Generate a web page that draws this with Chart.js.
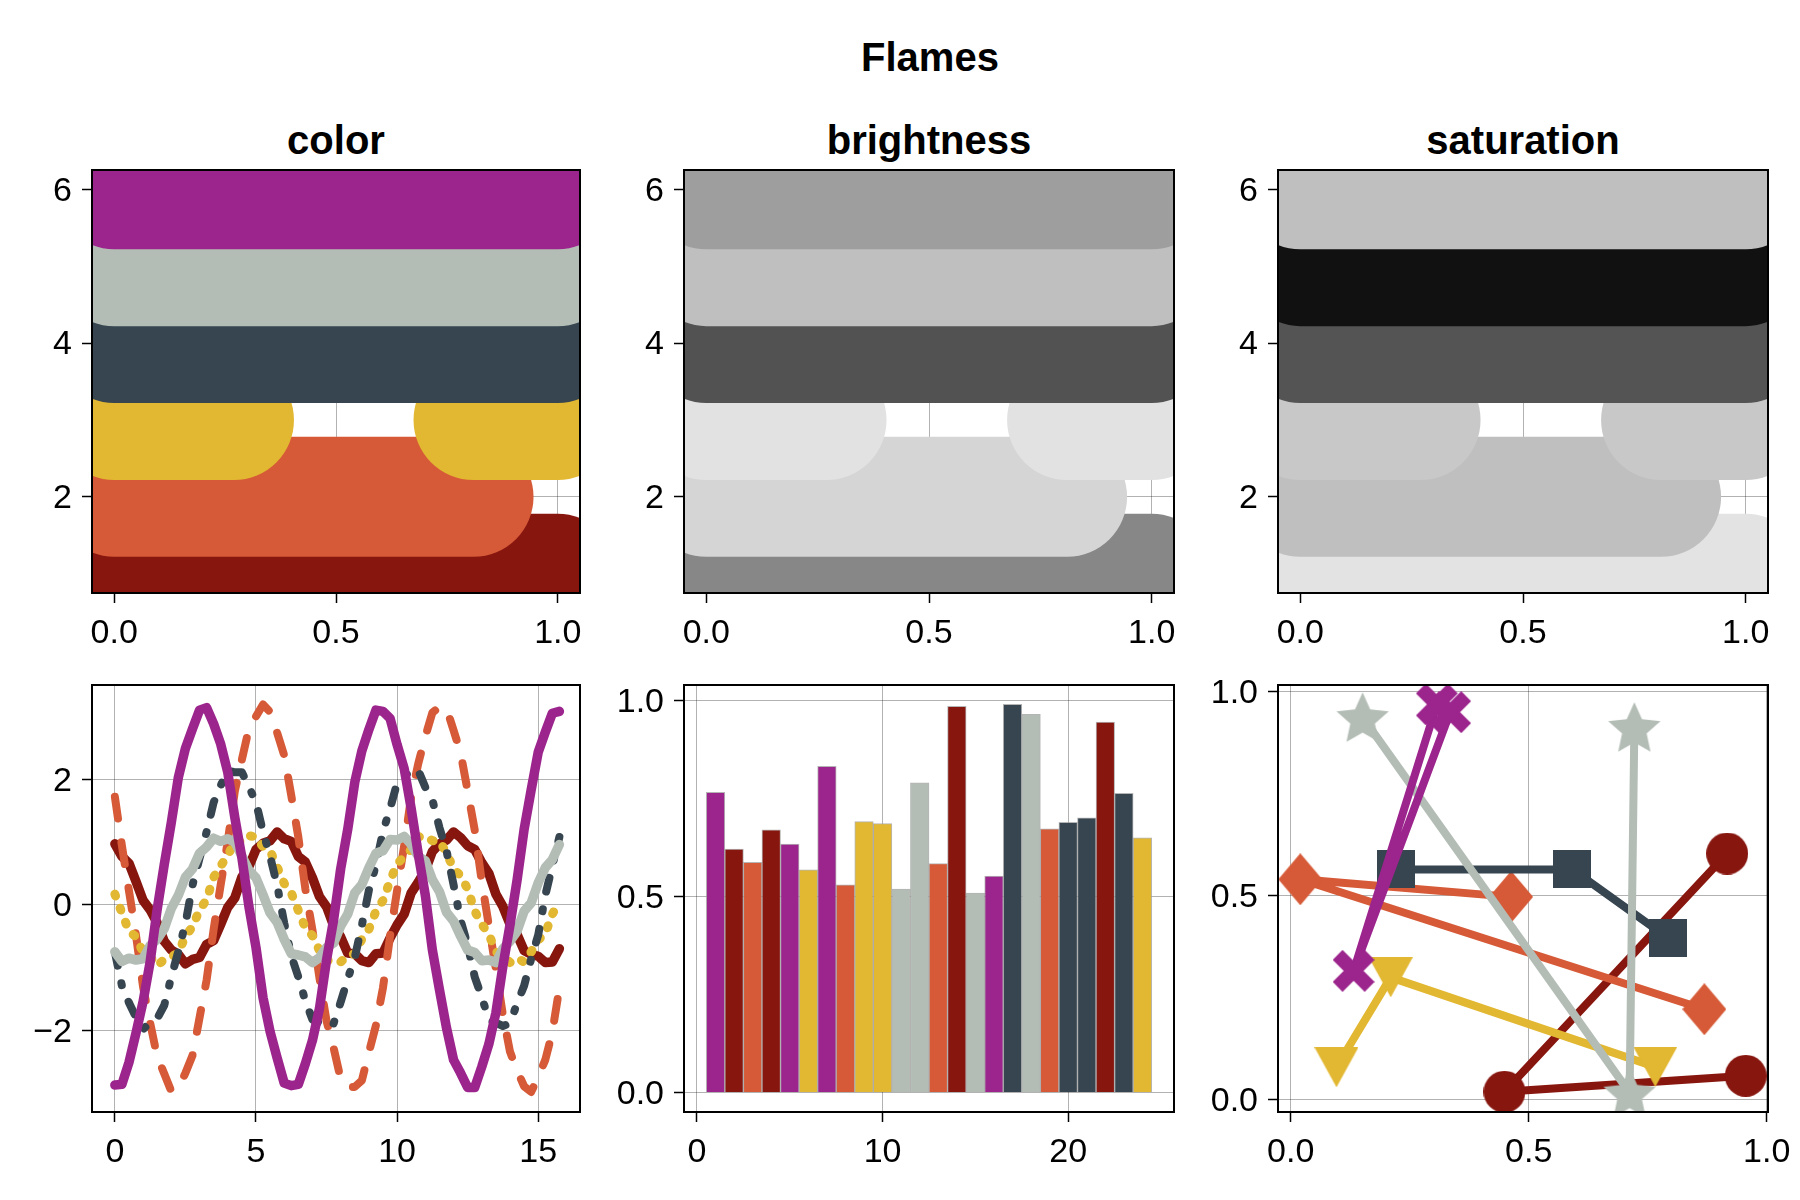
<!DOCTYPE html>
<html>
<head>
<meta charset="utf-8">
<script src="https://cdn.jsdelivr.net/npm/chart.js@4.4.1/dist/chart.umd.min.js"></script>
<style>
  html, body { margin: 0; padding: 0; background: #fff; }
  body { width: 1800px; height: 1200px; position: relative; overflow: hidden; font-family: 'Liberation Sans', Arial, sans-serif; }
  .ttl { position: absolute; width: 800px; font-weight: bold; font-size: 40px; line-height: 40px; text-align: center; white-space: nowrap; color: #000; }
  canvas { position: absolute; }
</style>
</head>
<body>
<script>
// Palettes
const flameColors = ['#87160f', '#d65a37', '#e2b731', '#364550', '#b3bdb5', '#9c258d'];
const brightnessColors = ['#878787', '#d5d5d5', '#e2e2e2', '#525252', '#bfbfbf', '#9e9e9e'];
const saturationColors = ['#e3e3e3', '#bfbfbf', '#c8c8c8', '#545454', '#111111', '#bfbfbf'];

// Top row: one thick line per colour
const bandLevels = [1, 2, 3, 4, 5, 6];
const bandSegments = [
  [[0, 1]],
  [[0, 0.81]],
  [[0, 0.27], [0.81, 1]],
  [[0, 1]],
  [[0, 1]],
  [[0, 1]],
];

// Bottom left: noisy waves
const waveX = [0, 0.25, 0.5, 0.75, 1, 1.25, 1.5, 1.75, 2, 2.25, 2.5, 2.75, 3, 3.25, 3.5, 3.75,
  4, 4.25, 4.5, 4.75, 5, 5.25, 5.5, 5.75, 6, 6.25, 6.5, 6.75, 7, 7.25, 7.5, 7.75,
  8, 8.25, 8.5, 8.75, 9, 9.25, 9.5, 9.75, 10, 10.25, 10.5, 10.75, 11, 11.25, 11.5, 11.75,
  12, 12.25, 12.5, 12.75, 13, 13.25, 13.5, 13.75, 14, 14.25, 14.5, 14.75, 15, 15.25, 15.5, 15.75];
const waveRed = [0.97, 0.77, 0.66, 0.37, 0.07, -0.08, -0.29, -0.58, -0.72, -0.79,
  -0.94, -0.87, -0.84, -0.63, -0.57, -0.31, -0.04, 0.11, 0.44, 0.61,
  0.88, 0.98, 1.02, 1.16, 1.05, 1.01, 0.77, 0.68, 0.43, 0.13,
  -0.03, -0.33, -0.51, -0.77, -0.78, -0.89, -0.92, -0.78, -0.77, -0.53,
  -0.32, -0.15, 0.19, 0.36, 0.55, 0.85, 0.97, 1.03, 1.16, 1.07,
  0.94, 0.88, 0.67, 0.50, 0.17, -0.03, -0.31, -0.47, -0.73, -0.79,
  -0.82, -0.92, -0.91, -0.70];
const waveOrange = [1.72, 0.94, 0.22, -0.49, -1.31, -1.88, -2.42, -2.69, -2.97, -2.91,
  -2.68, -2.40, -1.80, -1.20, -0.39, 0.32, 1.01, 1.81, 2.31, 2.81,
  3.00, 3.19, 3.07, 2.74, 2.38, 1.74, 1.08, 0.25, -0.40, -1.17,
  -1.85, -2.28, -2.77, -2.90, -2.90, -2.80, -2.35, -1.92, -1.32, -0.50,
  0.23, 0.94, 1.72, 2.25, 2.68, 3.06, 3.15, 3.13, 2.78, 2.42,
  1.81, 1.19, 0.37, -0.33, -1.02, -1.76, -2.34, -2.64, -2.89, -2.98,
  -2.74, -2.47, -2.03, -1.32];
const waveYellow = [0.17, -0.13, -0.42, -0.51, -0.76, -0.83, -0.97, -0.87, -0.83, -0.76,
  -0.50, -0.35, -0.08, 0.08, 0.44, 0.62, 0.78, 1.02, 1.00, 1.10,
  1.08, 0.92, 0.86, 0.60, 0.34, 0.19, -0.09, -0.37, -0.49, -0.73,
  -0.89, -0.88, -0.91, -0.81, -0.78, -0.55, -0.39, -0.10, 0.07, 0.38,
  0.65, 0.77, 0.88, 1.08, 1.09, 1.02, 1.02, 0.82, 0.58, 0.46,
  0.25, -0.10, -0.31, -0.47, -0.75, -0.81, -0.92, -0.85, -0.91, -0.75,
  -0.56, -0.46, -0.15, 0.05];
const waveSlate = [-0.75, -1.29, -1.56, -1.79, -1.98, -1.88, -1.81, -1.60, -1.15, -0.74,
  -0.30, 0.31, 0.74, 1.16, 1.63, 1.90, 2.14, 2.11, 2.11, 1.88,
  1.63, 1.16, 0.77, 0.31, -0.29, -0.81, -1.15, -1.53, -1.83, -1.88,
  -1.95, -1.89, -1.55, -1.18, -0.84, -0.33, 0.23, 0.63, 1.17, 1.53,
  1.94, 2.03, 2.16, 2.14, 1.87, 1.67, 1.23, 0.86, 0.32, -0.25,
  -0.64, -1.15, -1.47, -1.83, -1.88, -1.93, -1.89, -1.57, -1.29, -0.86,
  -0.48, 0.15, 0.62, 1.08];
const waveGray = [-0.75, -0.90, -0.85, -0.88, -0.86, -0.65, -0.55, -0.38, -0.06, 0.15,
  0.44, 0.57, 0.82, 0.92, 1.06, 1.01, 1.05, 1.00, 0.78, 0.55,
  0.43, 0.16, -0.13, -0.28, -0.55, -0.78, -0.80, -0.83, -0.92, -0.84,
  -0.68, -0.61, -0.34, -0.15, 0.19, 0.32, 0.59, 0.82, 0.86, 1.04,
  1.03, 1.09, 0.96, 0.77, 0.70, 0.40, 0.21, -0.12, -0.26, -0.50,
  -0.72, -0.76, -0.89, -0.88, -0.92, -0.70, -0.58, -0.42, -0.10, 0.03,
  0.35, 0.59, 0.72, 0.96];
const wavePurple = [-2.87, -2.86, -2.51, -2.04, -1.54, -0.91, -0.07, 0.64, 1.31, 2.03,
  2.49, 2.80, 3.10, 3.14, 2.88, 2.56, 2.11, 1.39, 0.75, -0.03,
  -0.68, -1.48, -2.02, -2.44, -2.84, -2.88, -2.86, -2.53, -2.16, -1.65,
  -0.88, -0.24, 0.57, 1.20, 1.95, 2.45, 2.79, 3.10, 3.08, 2.97,
  2.55, 2.17, 1.53, 0.81, 0.15, -0.72, -1.35, -1.96, -2.47, -2.68,
  -2.91, -2.91, -2.58, -2.22, -1.72, -0.97, -0.32, 0.39, 1.20, 1.83,
  2.43, 2.75, 3.05, 3.08];
const waveSeries = [waveRed, waveOrange, waveYellow, waveSlate, waveGray, wavePurple];
const waveDash = [[], [22, 24], [2, 13], [14, 18, 2, 18], [], []];
const waveWidth = [9.5, 8, 9, 8, 9.5, 9.5];

// Bottom middle: bars
const barX = [1, 2, 3, 4, 5, 6, 7, 8, 9, 10, 11, 12, 13, 14, 15, 16, 17, 18, 19, 20, 21, 22, 23, 24];
const barHeights = [0.766, 0.621, 0.587, 0.670, 0.634, 0.568, 0.832, 0.530, 0.691, 0.686, 0.519, 0.790,
  0.584, 0.985, 0.509, 0.552, 0.990, 0.965, 0.673, 0.689, 0.701, 0.945, 0.763, 0.650];
const barColorIdx = [5, 0, 1, 0, 5, 2, 5, 1, 2, 2, 4, 4, 1, 0, 4, 5, 3, 4, 1, 3, 3, 0, 3, 2];

// Bottom right: scatter lines
const scatterX = [
  [0.917, 0.449, 0.956],
  [0.463, 0.020, 0.869],
  [0.096, 0.210, 0.766],
  [0.222, 0.592, 0.792],
  [0.151, 0.712, 0.722],
  [0.307, 0.132, 0.335],
];
const scatterY = [
  [0.603, 0.020, 0.059],
  [0.497, 0.540, 0.222],
  [0.080, 0.300, 0.081],
  [0.564, 0.564, 0.397],
  [0.937, 0.018, 0.913],
  [0.968, 0.316, 0.949],
];

// Layout
const FONT = "'Liberation Sans', Arial, sans-serif";
const GRID = 'rgba(0,0,0,0.3)';
const AXIS_W = 80, AXIS_H = 60, PAD_T = 45, PAD_R = 40;
const colsLR = [[92, 580], [684, 1174], [1278, 1768]];
const rowsTB = [[170, 593], [685, 1112]];

const titles = [
  { text: 'Flames', cx: 930, base: 71 },
  { text: 'color', cx: 336, base: 154 },
  { text: 'brightness', cx: 929, base: 154 },
  { text: 'saturation', cx: 1523, base: 154 },
];
titles.forEach(t => {
  const d = document.createElement('div');
  d.className = 'ttl';
  d.textContent = t.text;
  d.style.left = (t.cx - 400) + 'px';
  d.style.top = (t.base - 34) + 'px';
  document.body.appendChild(d);
});

const framePlugin = {
  id: 'frame',
  afterDatasetsDraw(chart) {
    const { ctx, chartArea: a } = chart;
    ctx.save();
    ctx.strokeStyle = '#000';
    ctx.lineWidth = 2;
    ctx.strokeRect(a.left, a.top, a.right - a.left, a.bottom - a.top);
    ctx.restore();
  }
};

function addCanvas(col, row) {
  const [l, r] = colsLR[col];
  const [t, b] = rowsTB[row];
  const c = document.createElement('canvas');
  c.width = r - l + AXIS_W + PAD_R;
  c.height = b - t + PAD_T + AXIS_H;
  c.style.left = (l - AXIS_W) + 'px';
  c.style.top = (t - PAD_T) + 'px';
  document.body.appendChild(c);
  return c;
}

function axis(isX, min, max, tickValues, digits) {
  return {
    type: 'linear',
    position: isX ? 'bottom' : 'left',
    min, max,
    offset: false,
    afterBuildTicks: s => { s.ticks = tickValues.map(v => ({ value: v })); },
    afterFit: s => { if (isX) s.height = AXIS_H; else s.width = AXIS_W; },
    grid: { color: GRID, lineWidth: 1, offset: false, drawTicks: true, tickLength: 10, tickColor: '#000', tickWidth: 1.5 },
    border: { display: false },
    ticks: {
      font: { family: FONT, size: 34 },
      color: '#000',
      padding: 10,
      labelOffset: isX ? 0 : 2,
      maxRotation: 0,
      autoSkip: false,
      callback: v => Number(v).toFixed(digits).replace('-', '\u2212'),
    },
  };
}

function baseOptions(xAxis, yAxis) {
  return {
    responsive: false,
    animation: false,
    devicePixelRatio: 1,
    events: [],
    layout: { padding: { left: 0, top: PAD_T, right: PAD_R, bottom: 0 } },
    plugins: { legend: { display: false }, tooltip: { enabled: false } },
    scales: { x: xAxis, y: yAxis },
  };
}

// Top row
function bandPoints(i) {
  const pts = [];
  bandSegments[i].forEach((seg, j) => {
    if (j > 0) pts.push({ x: (pts[pts.length - 1].x + seg[0]) / 2, y: null });
    pts.push({ x: seg[0], y: bandLevels[i] }, { x: seg[1], y: bandLevels[i] });
  });
  return pts;
}

[flameColors, brightnessColors, saturationColors].forEach((colors, col) => {
  new Chart(addCanvas(col, 0), {
    type: 'line',
    data: {
      datasets: bandLevels.map((lvl, i) => ({
        data: bandPoints(i),
        borderColor: colors[i],
        borderWidth: 120,
        borderCapStyle: 'round',
        borderJoinStyle: 'round',
        pointRadius: 0,
        tension: 0,
        spanGaps: false,
        clip: 0,
        order: 6 - i,
      })),
    },
    options: baseOptions(axis(true, -0.05, 1.05, [0, 0.5, 1], 1), axis(false, 0.75, 6.25, [2, 4, 6], 0)),
    plugins: [framePlugin],
  });
});

// Bottom left: lines
new Chart(addCanvas(0, 1), {
  type: 'line',
  data: {
    datasets: waveSeries.map((ys, i) => ({
      data: ys.map((y, k) => ({ x: waveX[k], y })),
      borderColor: flameColors[i],
      borderWidth: waveWidth[i],
      borderDash: waveDash[i],
      borderCapStyle: 'round',
      borderJoinStyle: 'round',
      pointRadius: 0,
      tension: 0,
      clip: 0,
      order: 6 - i,
    })),
  },
  options: baseOptions(axis(true, -0.81, 16.48, [0, 5, 10, 15], 0), axis(false, -3.30, 3.50, [-2, 0, 2], 0)),
  plugins: [framePlugin],
});

// Bottom middle: bars
new Chart(addCanvas(1, 1), {
  type: 'bar',
  data: {
    datasets: [{
      data: barX.map((x, i) => ({ x, y: barHeights[i] })),
      backgroundColor: barColorIdx.map(c => flameColors[c]),
      borderColor: 'rgba(150,150,150,0.7)',
      borderWidth: 1,
      barPercentage: 1,
      categoryPercentage: 1,
    }],
  },
  options: baseOptions(axis(true, -0.7, 25.7, [0, 10, 20], 0), axis(false, -0.0495, 1.0395, [0, 0.5, 1], 1)),
  plugins: [framePlugin],
});

// Bottom right: scatter lines with filled markers
function marker(w, h, color, draw) {
  const c = document.createElement('canvas');
  c.width = w; c.height = h;
  const ctx = c.getContext('2d');
  ctx.fillStyle = color;
  ctx.strokeStyle = color;
  draw(ctx, w, h);
  return c;
}
const markerMakers = [
  color => marker(42, 42, color, (ctx, w, h) => { ctx.beginPath(); ctx.arc(w / 2, h / 2, 21, 0, Math.PI * 2); ctx.fill(); }),
  color => marker(44, 52, color, (ctx, w, h) => {
    ctx.beginPath(); ctx.moveTo(w / 2, 0); ctx.lineTo(w, h / 2); ctx.lineTo(w / 2, h); ctx.lineTo(0, h / 2); ctx.closePath(); ctx.fill();
  }),
  color => marker(44, 40, color, (ctx, w, h) => {
    ctx.beginPath(); ctx.moveTo(0, 0); ctx.lineTo(w, 0); ctx.lineTo(w / 2, h); ctx.closePath(); ctx.fill();
  }),
  color => marker(38, 38, color, (ctx, w, h) => { ctx.fillRect(0, 0, w, h); }),
  color => marker(54, 50, color, (ctx, w, h) => {
    const R = 27.5, r = R * 0.47, cx = w / 2, cy = (h - 1.809 * R) / 2 + R;
    ctx.beginPath();
    for (let k = 0; k < 10; k++) {
      const rad = k % 2 === 0 ? R : r;
      const a = -Math.PI / 2 + k * Math.PI / 5;
      const px = cx + rad * Math.cos(a), py = cy + rad * Math.sin(a);
      if (k === 0) ctx.moveTo(px, py); else ctx.lineTo(px, py);
    }
    ctx.closePath(); ctx.fill();
  }),
  color => marker(42, 42, color, (ctx, w, h) => {
    ctx.lineWidth = 14; ctx.lineCap = 'butt';
    ctx.beginPath();
    ctx.moveTo(5, 5); ctx.lineTo(w - 5, h - 5);
    ctx.moveTo(w - 5, 5); ctx.lineTo(5, h - 5);
    ctx.stroke();
  }),
];

const allSX = scatterX.flat(), allSY = scatterY.flat();
const sxMin = Math.min(...allSX), sxMax = Math.max(...allSX);
const syMin = Math.min(...allSY), syMax = Math.max(...allSY);
const sxPad = (sxMax - sxMin) * 0.05, syPad = (syMax - syMin) * 0.05;

new Chart(addCanvas(2, 1), {
  type: 'scatter',
  data: {
    datasets: scatterX.map((xs, i) => ({
      data: xs.map((x, k) => ({ x, y: scatterY[i][k] })),
      showLine: true,
      borderColor: flameColors[i],
      backgroundColor: flameColors[i],
      borderWidth: 8,
      borderJoinStyle: 'round',
      pointStyle: markerMakers[i](flameColors[i]),
      pointRadius: 20,
      pointBorderWidth: 0,
      clip: 0,
      order: 6 - i,
    })),
  },
  options: baseOptions(
    axis(true, sxMin - sxPad, sxMax + sxPad, [0, 0.5, 1], 1),
    axis(false, syMin - syPad, syMax + syPad, [0, 0.5, 1], 1)
  ),
  plugins: [framePlugin],
});
</script>
</body>
</html>
